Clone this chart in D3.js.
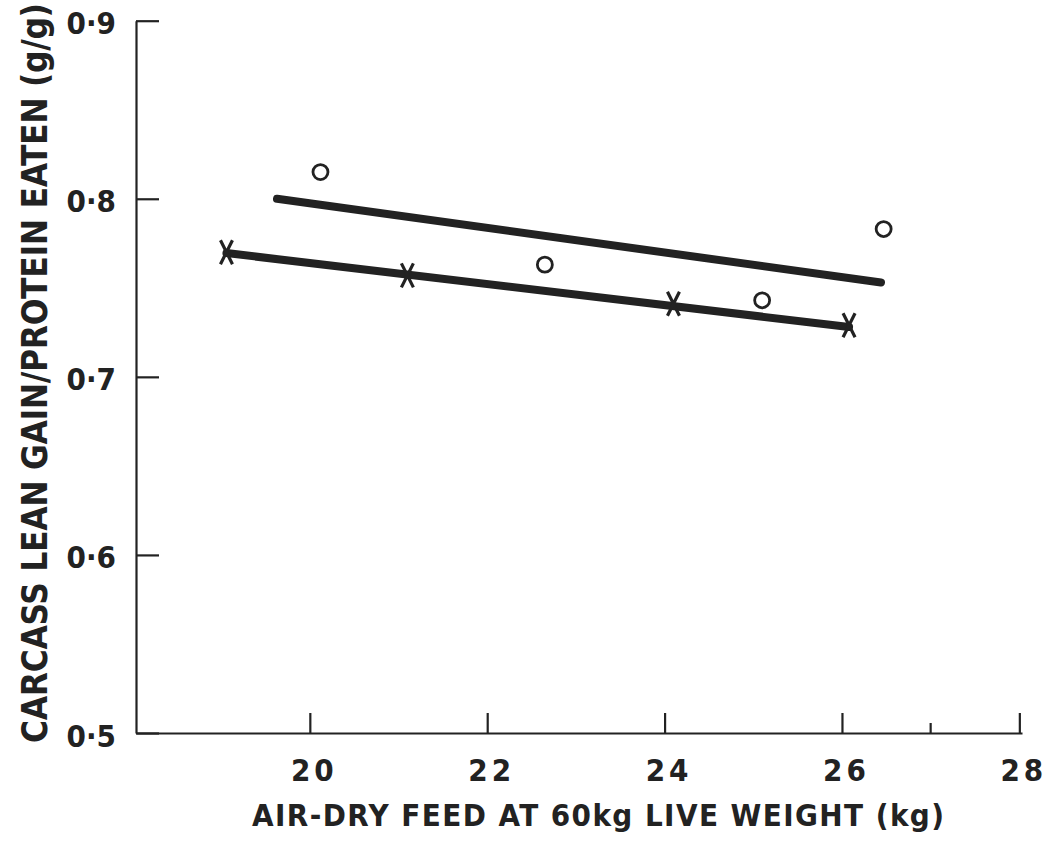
<!DOCTYPE html>
<html>
<head>
<meta charset="utf-8">
<script src="https://cdn.jsdelivr.net/npm/d3@7"></script>
<style>
  body { margin: 0; background: #fff; }
  text { font-family: "DejaVu Sans Condensed", "DejaVu Sans", sans-serif; fill: #222; }
</style>
</head>
<body>
<svg id="chart"></svg>
<script>
const width = 1047, height = 841;

// data
const xTicks = [20, 22, 24, 26, 28];
const xMinorTicks = [27];
const yTicks = [0.5, 0.6, 0.7, 0.8, 0.9];

const circleX = [20.12, 22.65, 25.1, 26.47];
const circleY = [0.815, 0.763, 0.743, 0.783];

const crossX = [19.06, 21.1, 24.1, 26.08];
const crossY = [0.770, 0.757, 0.741, 0.729];

// fitted lines (end points)
const upperLineX = [19.63, 26.44];
const upperLineY = [0.800, 0.753];
const lowerLineX = [19.06, 26.08];
const lowerLineY = [0.7695, 0.728];

const svg = d3.select("#chart")
  .attr("width", width)
  .attr("height", height);

const x = d3.scaleLinear().domain([18.04, 28.03]).range([136, 1022]);
const y = d3.scaleLinear().domain([0.5, 0.9]).range([733, 20.7]);

const ink = "#222";

// x axis
const xAxis = svg.append("g")
  .attr("transform", `translate(0,${y(0.5)})`)
  .call(d3.axisBottom(x).tickValues(xTicks).tickSizeInner(-20).tickSizeOuter(0).tickPadding(26).tickFormat(d3.format("d")));
xAxis.select(".domain").attr("stroke", ink).attr("stroke-width", 2.2);
xAxis.selectAll(".tick line").attr("stroke", ink).attr("stroke-width", 2.2);
xAxis.selectAll(".tick text")
  .attr("font-size", 31)
  .attr("font-weight", "bold")
  .attr("font-family", "'DejaVu Sans Condensed', 'DejaVu Sans', sans-serif")
  .attr("fill", ink)
  .attr("letter-spacing", 4)
  .attr("dx", 4);

svg.append("g")
  .selectAll("line")
  .data(xMinorTicks)
  .join("line")
  .attr("x1", d => x(d)).attr("x2", d => x(d))
  .attr("y1", y(0.5)).attr("y2", y(0.5) - 10)
  .attr("stroke", ink).attr("stroke-width", 2.2);

// y axis
const yAxis = svg.append("g")
  .attr("transform", `translate(${x(18.04)},0)`)
  .call(d3.axisLeft(y).tickValues(yTicks).tickSizeInner(-23).tickSizeOuter(0).tickPadding(20)
    .tickFormat(d => d3.format(".1f")(d).replace(".", "\u00b7")));
yAxis.select(".domain").attr("stroke", ink).attr("stroke-width", 2.2);
yAxis.selectAll(".tick line").attr("stroke", ink).attr("stroke-width", 2.2);
yAxis.selectAll(".tick text")
  .attr("font-size", 31)
  .attr("font-weight", "bold")
  .attr("font-family", "'DejaVu Sans Condensed', 'DejaVu Sans', sans-serif")
  .attr("fill", ink)
  .attr("dy", "0.42em");

// axis titles
svg.append("text")
  .attr("x", 252)
  .attr("y", 826)
  .attr("font-size", 31)
  .attr("font-weight", "bold")
  .attr("textLength", 692)
  .attr("lengthAdjust", "spacing")
  .text("AIR-DRY FEED AT 60kg LIVE WEIGHT (kg)");

svg.append("text")
  .attr("transform", "translate(47,743) rotate(-90)")
  .attr("font-size", 35)
  .attr("font-weight", "bold")
  .attr("textLength", 740)
  .attr("lengthAdjust", "spacing")
  .text("CARCASS LEAN GAIN/PROTEIN EATEN (g/g)");

// fitted lines
const line = d3.line().x(d => x(d[0])).y(d => y(d[1]));
svg.append("path")
  .datum(d3.zip(upperLineX, upperLineY))
  .attr("d", line)
  .attr("fill", "none").attr("stroke", ink)
  .attr("stroke-width", 8).attr("stroke-linecap", "round");
svg.append("path")
  .datum(d3.zip(lowerLineX, lowerLineY))
  .attr("d", line)
  .attr("fill", "none").attr("stroke", ink)
  .attr("stroke-width", 8).attr("stroke-linecap", "round");

// open circles
svg.append("g")
  .selectAll("circle")
  .data(d3.zip(circleX, circleY))
  .join("circle")
  .attr("cx", d => x(d[0]))
  .attr("cy", d => y(d[1]))
  .attr("r", 7.5)
  .attr("fill", "#fff")
  .attr("stroke", ink)
  .attr("stroke-width", 2.8);

// crosses (tall narrow X)
svg.append("g")
  .selectAll("path")
  .data(d3.zip(crossX, crossY))
  .join("path")
  .attr("transform", d => `translate(${x(d[0])},${y(d[1])})`)
  .attr("d", "M-6,-12L6,12M6,-12L-6,12")
  .attr("fill", "none")
  .attr("stroke", ink)
  .attr("stroke-width", 3.2);
</script>
</body>
</html>
